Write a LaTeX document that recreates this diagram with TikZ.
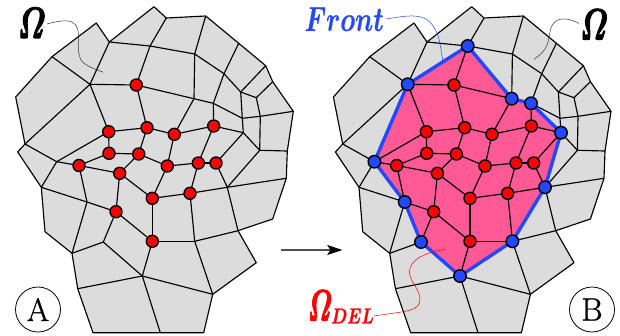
\documentclass[tikz,border=0pt]{standalone}
\usetikzlibrary{arrows.meta}
\definecolor{meshgrey}{RGB}{220,220,220}
\definecolor{delpink}{RGB}{255,90,150}
\definecolor{frontblue}{RGB}{36,72,255}
\definecolor{arrowgrey}{RGB}{80,80,80}
\tikzset{
  meshline/.style={draw=black,line width=1.15pt,line join=round},
  rednode/.style={circle,draw=black,fill=red,line width=1.4pt,minimum size=12pt,inner sep=0pt},
  bluenode/.style={circle,draw=black,fill=frontblue,line width=1.4pt,minimum size=12.5pt,inner sep=0pt},
  badge/.style={circle,draw=black,line width=0.8pt,minimum size=45pt,inner sep=0pt,font=\Huge},
  bigtext/.style={inner sep=0pt,font=\Huge},
  leader/.style={line width=0.5pt}
}
\newcommand{\bmath}[1]{{\boldmath$#1$}}
\newcommand{\heavy}[2]{\special{pdf:code 2 Tr #1 w}#2\special{pdf:code 0 Tr 1 w}}
\newcommand{\meshpoints}{%
  \coordinate (p1) at (15.7,97);
  \coordinate (p2) at (52,56.7);
  \coordinate (p3) at (96.3,23);
  \coordinate (p4) at (109.3,42);
  \coordinate (p5) at (154,6.7);
  \coordinate (p6) at (166.3,18);
  \coordinate (p7) at (205.7,16);
  \coordinate (p8) at (238.7,43.3);
  \coordinate (p9) at (265.7,65.7);
  \coordinate (p10) at (272.7,81.7);
  \coordinate (p11) at (293.3,111.3);
  \coordinate (p12) at (287.3,151);
  \coordinate (p13) at (286.3,178.3);
  \coordinate (p14) at (272.7,219);
  \coordinate (p15) at (238,230.7);
  \coordinate (p16) at (256.3,262.7);
  \coordinate (p17) at (212.7,294.3);
  \coordinate (p18) at (203.7,332.7);
  \coordinate (p19) at (160.3,332.7);
  \coordinate (p20) at (93,332.7);
  \coordinate (p21) at (77.7,288.7);
  \coordinate (p22) at (72,253.3);
  \coordinate (p23) at (45,231.7);
  \coordinate (p24) at (41.3,187.3);
  \coordinate (p25) at (17.7,152);
  \coordinate (p26) at (25,144);
  \coordinate (b1) at (150,46);
  \coordinate (b2) at (194.7,54);
  \coordinate (b3) at (224,73.7);
  \coordinate (b4) at (240.7,92);
  \coordinate (b5) at (256.3,97.7);
  \coordinate (b6) at (90,84.3);
  \coordinate (b7) at (194,98.7);
  \coordinate (b8) at (213.3,103.3);
  \coordinate (b9) at (242.3,118.3);
  \coordinate (b10) at (260.3,116.3);
  \coordinate (b11) at (243.3,132.7);
  \coordinate (b12) at (259.7,150.3);
  \coordinate (c1) at (227.3,187.3);
  \coordinate (c2) at (194.7,241.3);
  \coordinate (c3) at (142.3,276);
  \coordinate (c4) at (103.3,242);
  \coordinate (c5) at (87,202);
  \coordinate (c6) at (56.7,161.7);
  \coordinate (m1) at (136.3,85);
  \coordinate (m2) at (108.7,131.7);
  \coordinate (m3) at (147,127.7);
  \coordinate (m4) at (174.3,134.3);
  \coordinate (m5) at (213.7,126);
  \coordinate (m6) at (109,153.3);
  \coordinate (m7) at (138.7,154);
  \coordinate (m8) at (79,165.5);
  \coordinate (m9) at (119.7,173.3);
  \coordinate (m10) at (167.3,166);
  \coordinate (m11) at (198.3,163);
  \coordinate (m12) at (216,163);
  \coordinate (m13) at (152.3,198.3);
  \coordinate (m14) at (190,193.3);
  \coordinate (m15) at (116,211.7);
  \coordinate (m16) at (152.3,241.3);
}
\newcommand{\meshfill}{%
  \fill[meshgrey] (p1)--(p2)--(p3)--(p4)--(p5)--(p6)--(p7)--(p8)--(p9)--(p10)--(p11)--(p12)--(p13)--(p14)--(p15)--(p16)--(p17)--(p18)--(p19)--(p20)--(p21)--(p22)--(p23)--(p24)--(p25)--(p26)--cycle;
}
\newcommand{\meshedges}{%
  \draw[meshline] (p1)--(p2)--(p3)--(p4)--(p5)--(p6)--(p7)--(p8)--(p9)--(p10)--(p11)--(p12)--(p13)--(p14)--(p15)--(p16)--(p17)--(p18)--(p19)--(p20)--(p21)--(p22)--(p23)--(p24)--(p25)--(p26)--cycle;
  \foreach \a/\b in {p26/b6,p2/b6,b6/p4,p4/b1,b1/b2,p6/b1,b1/m1,b6/m1,b6/m2,p7/b2,b2/b3,b3/b4,p8/b3,b3/b8,b2/b7,
    m1/b7,b7/b8,b8/b9,b7/m4,b8/m5,m5/b11,m5/m4,m4/m3,m3/m2,m1/m3,m6/m2,m2/c6,p26/c6,m6/m8,m6/m7,m3/m7,m4/m10,
    m7/m10,m7/m9,m10/m11,m11/m12,m5/m11,m12/b11,b4/b9,b9/b11,p9/b4,p10/b5,b4/b5,b5/b10,b10/b12,b9/b10,b10/p11,
    b11/b12,b12/p12,b12/c1,c1/p13,m12/c1,m14/c1,c1/p15,m11/m14,m10/m13,m13/m14,m9/m13,m9/m15,m8/m9,m8/c5,
    p24/c5,c5/m15,c6/p24,c6/m8,m15/m16,m13/m16,m14/c2,m16/c2,c2/p15,c2/p17,m16/c3,c3/p17,c3/p21,c3/p19,
    c4/c3,c4/m15,c4/p22,p22/c5}
    {\draw[meshline] (\a)--(\b);}
}
\newcommand{\rednodes}{%
  \foreach \n in {m1,m2,m3,m4,m5,m6,m7,m8,m9,m10,m11,m12,m13,m14,m15,m16}
    {\node[rednode] at (\n) {};}
}
\begin{document}
\begin{tikzpicture}[x=1pt,y=-1pt]
\useasboundingbox (0,0) rectangle (620,335);
% left mesh
\begin{scope}[name prefix=L-]
  \meshpoints
  \meshfill
  \meshedges
  \rednodes
\end{scope}
% right mesh
\begin{scope}[shift={(317.7,0)},name prefix=R-]
  \meshpoints
  \meshfill
  \fill[delpink] (b1)--(b7)--(b8)--(b11)--(c1)--(c2)--(c3)--(c4)--(c5)--(c6)--(b6)--cycle;
  \meshedges
  \draw[frontblue,line width=3.4pt,line join=round] (b1)--(b7)--(b8)--(b11)--(c1)--(c2)--(c3)--(c4)--(c5)--(c6)--(b6)--cycle;
  \rednodes
  \foreach \n in {b1,b6,b7,b8,b11,c1,c2,c3,c4,c5,c6}
    {\node[bluenode] at (\n) {};}
\end{scope}
% labels
\node[bigtext,xscale=1.2,yscale=1.75] (omegaL) at (31.8,23) {\heavy{0.7}{\bmath{\mathnormal{\Omega}}}};
\node[bigtext,xscale=1.2,yscale=1.75] (omegaR) at (594,24.5) {\heavy{0.7}{\bmath{\mathnormal{\Omega}}}};
\node[bigtext,xscale=1.02,yscale=1.4,text=frontblue,anchor=east] (front) at (384,19) {\heavy{0.15}{\bmath{Front}}};
\node[bigtext,xscale=1.05,yscale=1.75,text=red] (omegadel) at (320,305.5) {\heavy{0.7}{\bmath{\mathnormal{\Omega}}}};
\node[text=red,inner sep=0pt,anchor=east,font=\LARGE,xscale=0.95,yscale=1.25] (del) at (374,316) {\heavy{0.2}{\bmath{DEL}}};
\coordinate (endL) at (103.3,72.3);
\coordinate (endR) at (534,59.3);
\coordinate (endF) at (442.7,60);
\coordinate (endD) at (445,249.3);
\draw[leader,black!80] (omegaL.east) ++(1,1) .. controls (55,22) and (66,19) .. (72,22) .. controls (84,28) and (74,45) .. (81,60) .. controls (85,66) and (95,69) .. (endL);
\draw[leader,black!80] (omegaR.west) ++(-1,-1) .. controls (575,21) and (565,17) .. (558,20) .. controls (548,25) and (551,35) .. (547,45) .. controls (544,52) and (540,55) .. (endR);
\draw[leader,frontblue] (front.east) ++(2,0) .. controls (400,17) and (420,12) .. (430,22) .. controls (440,33) and (440,45) .. (endF);
\draw[leader,red] (endD) .. controls (432,252) and (415,255) .. (410,268) .. controls (407,280) and (418,285) .. (420,298) .. controls (421,312) and (405,311) .. (del.east);
% transition arrow
\coordinate (arrA) at (281,250);
\coordinate (arrB) at (342.3,250);
\draw[arrowgrey,line width=1.4pt,-{Stealth[black,length=15pt,width=10pt,inset=3pt]}] (arrA)--(arrB);
% badges
\node[badge] (badgeA) at (38,309.5) {\scalebox{1.3}{\heavy{0.25}{A}}};
\node[badge] (badgeB) at (592,309.5) {\scalebox{1.3}{\heavy{0.25}{B}}};
\end{tikzpicture}
\end{document}
